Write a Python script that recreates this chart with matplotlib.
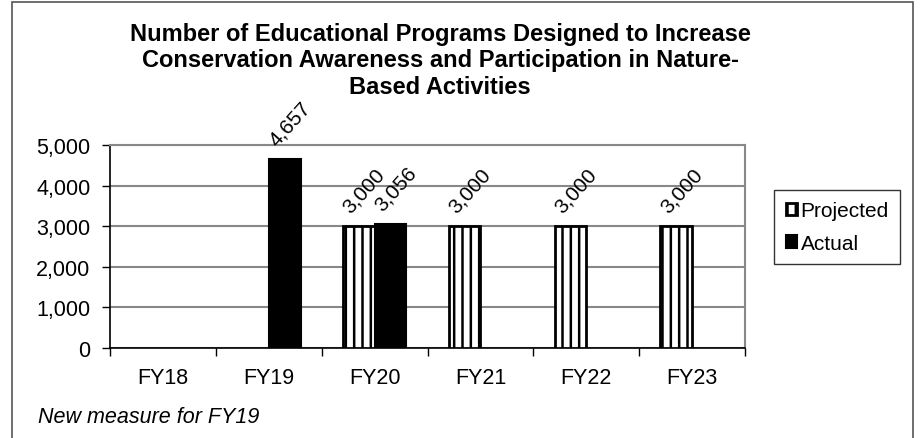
import numpy as np
import matplotlib
matplotlib.use('Agg')
import matplotlib.pyplot as plt
import matplotlib.patches as mpatches

plt.rcParams['font.family'] = ['Liberation Sans', 'DejaVu Sans']
plt.rcParams['hatch.linewidth'] = 1.8

years = ['FY18', 'FY19', 'FY20', 'FY21', 'FY22', 'FY23']
projected = [np.nan, np.nan, 3000, 3000, 3000, 3000]
actual = [np.nan, 4657, 3056, np.nan, np.nan, np.nan]

fig = plt.figure(figsize=(9.21, 4.39), dpi=100)
ax = fig.add_axes([110/921, 1 - 349/439, 635/921, 203/439])

# outer chart border
fig.patches.append(mpatches.Rectangle((12/921, -0.05), 901/921, 1 - 3/439 + 0.05,
                                      transform=fig.transFigure, fill=False,
                                      edgecolor='#555555', linewidth=1.2))

x = np.arange(len(years))
w = 0.3
bp = ax.bar(x - w/2, projected, w, facecolor='white', edgecolor='black',
            hatch='||', linewidth=2, label='Projected', zorder=3)
ba = ax.bar(x + w/2, actual, w, facecolor='black', edgecolor='black',
            linewidth=1.5, label='Actual', zorder=3)

for i in range(len(years)):
    for xs, vals in ((x[i] - w/2, projected), (x[i] + w/2, actual)):
        v = vals[i]
        if not np.isnan(v):
            ax.annotate(f'{int(v):,}', (xs, v), xytext=(4, 7),
                        textcoords='offset points', rotation=48,
                        ha='center', va='bottom', fontsize=15)

ax.set_xlim(-0.5, len(years) - 0.5)
ax.set_ylim(0, 5000)
ax.set_yticks(range(0, 5001, 1000))
ax.yaxis.set_major_formatter(matplotlib.ticker.FuncFormatter(lambda v, p: f'{int(v):,}'))
ax.set_xticks(x)
ax.set_xticklabels(years)
ax.set_xticks(np.arange(-0.5, len(years)), minor=True)
ax.tick_params(axis='x', which='major', length=0, pad=14, labelsize=15.5)
ax.tick_params(axis='x', which='minor', length=6, width=1)
ax.tick_params(axis='y', length=6, width=1, labelsize=15.5, pad=8)
ax.grid(axis='y', color='#888888', linewidth=1.5, zorder=0)
for s in ('top', 'right'):
    ax.spines[s].set_color('#888888')
    ax.spines[s].set_linewidth(1.5)
ax.spines['left'].set_linewidth(1.2)
ax.spines['bottom'].set_linewidth(1.2)

fig.text(440/921, 1 - 61/439,
         'Number of Educational Programs Designed to Increase\n'
         'Conservation Awareness and Participation in Nature-\n'
         'Based Activities',
         ha='center', va='center', fontsize=17, fontweight='bold',
         linespacing=1.2)

leg = ax.legend(loc='center left', bbox_to_anchor=(764/921, 1 - 228/439),
                bbox_transform=fig.transFigure, fontsize=15, frameon=True,
                fancybox=False, edgecolor='black', handlelength=0.55,
                handleheight=0.55, handletextpad=0.15, borderpad=0.55,
                labelspacing=0.65)
leg.get_frame().set_linewidth(1)

fig.text(38/921, 1 - 418/439, 'New measure for FY19', fontsize=15.5,
         style='italic', va='center')

fig.savefig('out.png', dpi=100)
